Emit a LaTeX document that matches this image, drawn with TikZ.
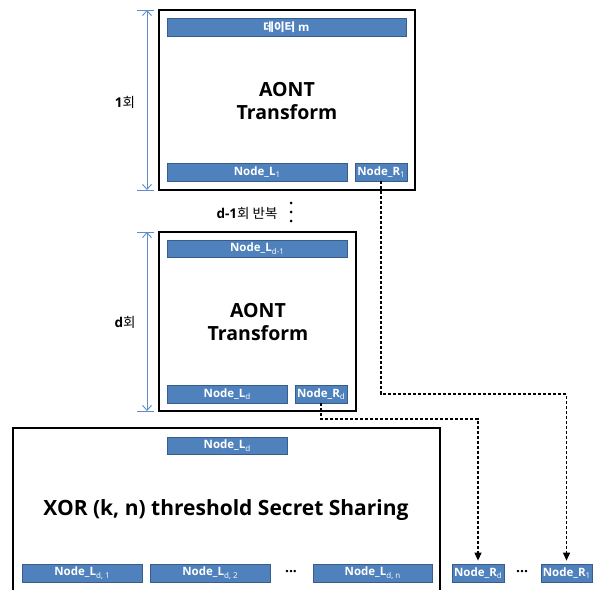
\documentclass[tikz,border=0pt]{standalone}
\usepackage{fontspec}
\setmainfont{Open Sans}
\newfontfamily\kr{Noto Sans CJK KR}
\usetikzlibrary{arrows.meta}
\definecolor{barfill}{HTML}{4F81BD}
\definecolor{barline}{HTML}{385D8A}
\definecolor{arrblue}{HTML}{5E8CC8}
\newcommand\sbs[1]{\raisebox{-0.4ex}{\fontsize{8}{9}\selectfont\mdseries #1}}
\begin{document}
\begin{tikzpicture}[x=1pt,y=-1pt,
  bar/.style={draw=barline,line width=0.8pt,fill=barfill,text=white,font=\fontsize{11.5}{13}\selectfont\bfseries,inner sep=0pt,anchor=center},
  bigbox/.style={draw=black,line width=1.3pt,fill=white,inner sep=0pt},
  title/.style={font=\fontsize{19.5}{23}\selectfont\bfseries,align=center,inner sep=0pt},
  side/.style={font=\fontsize{13.5}{15}\selectfont,inner sep=0pt},
  span/.style={draw=arrblue,line width=0.9pt,{Straight Barb[length=5pt,width=9pt]}-{Straight Barb[length=5pt,width=9pt]}},
  tick/.style={draw=arrblue,line width=0.9pt},
  link/.style={draw=black,line width=1.1pt,dash pattern=on 3pt off 2pt,-{Triangle[width=7pt,length=8pt]},shorten >=3pt},
  dot/.style={circle,fill=black,inner sep=0pt,minimum size=3pt},
  hdots/.style={font=\fontsize{14}{15}\selectfont\bfseries,inner sep=0pt}]
\useasboundingbox (0,0) rectangle (599,589);
\clip (0,0) rectangle (599,589);
\fill[white] (0,0) rectangle (599,589);

% ---- top AONT box
\node[bigbox,minimum width=256pt,minimum height=180pt] (box1) at (287,100) {};
\node[bar,minimum width=239pt,minimum height=18pt] (data) at (286.5,27) {{\kr 데이터} m};
\node[bar,minimum width=180pt,minimum height=18pt] (L1) at (257,172) {Node\_L\sbs{1}};
\node[bar,minimum width=52pt,minimum height=18pt] (R1) at (381,172) {Node\_R\sbs{1}};
\node[title] (aont1) at (287,101) {AONT\\Transform};
\coordinate (a1t) at (147,10);
\coordinate (a1b) at (147,190);
\draw[span] (a1t) -- (a1b);
\draw[tick] ([xshift=-10pt]a1t) -- ([xshift=7pt]a1t);
\draw[tick] ([xshift=-10pt]a1b) -- ([xshift=7pt]a1b);
\node[side] (lab1) at (125,102) {\textbf{1}{\kr 회}};

% ---- repetition
\node[side] (rep) at (247,213) {\textbf{d-1}{\kr 회 반복}};
\node[dot] (d1) at (291,203) {};
\node[dot] (d2) at (291,212) {};
\node[dot] (d3) at (291,221) {};

% ---- middle AONT box
\node[bigbox,minimum width=197pt,minimum height=179pt] (box2) at (257.5,321.5) {};
\node[bar,minimum width=180pt,minimum height=17pt] (Ldm) at (257,248.5) {Node\_L\sbs{d-1}};
\node[bar,minimum width=120pt,minimum height=18pt] (Ld) at (227,394) {Node\_L\sbs{d}};
\node[bar,minimum width=52pt,minimum height=18pt] (Rd) at (321,394) {Node\_R\sbs{d}};
\node[title] (aont2) at (258,322) {AONT\\Transform};
\coordinate (a2t) at (147,232);
\coordinate (a2b) at (147,411);
\draw[span] (a2t) -- (a2b);
\draw[tick] ([xshift=-10pt]a2t) -- ([xshift=7pt]a2t);
\draw[tick] ([xshift=-10pt]a2b) -- ([xshift=7pt]a2b);
\node[side] (labd) at (125,322) {\textbf{d}{\kr 회}};

% ---- bottom XOR box (cut off by the picture's lower edge)
\node[bigbox,minimum width=427pt,minimum height=200pt] (box3) at (226.5,528) {};
\node[bar,minimum width=120pt,minimum height=17pt] (LdT) at (227,445.5) {Node\_L\sbs{d}};
\node[font=\fontsize{21}{25}\selectfont\bfseries,inner sep=0pt] (xor) at (226,510) {XOR (k, n) threshold Secret Sharing};
\node[bar,minimum width=120pt,minimum height=18pt] (Ld1) at (82,573) {Node\_L\sbs{d, 1}};
\node[bar,minimum width=120pt,minimum height=18pt] (Ld2) at (210,573) {Node\_L\sbs{d, 2}};
\node[hdots] (dotsL) at (291,573) {···};
\node[bar,minimum width=119pt,minimum height=18pt] (Ldn) at (372.5,573) {Node\_L\sbs{d, n}};
\node[bar,minimum width=52pt,minimum height=18pt] (RdB) at (478,573) {Node\_R\sbs{d}};
\node[hdots] (dotsR) at (522,573) {···};
\node[bar,minimum width=51pt,minimum height=18pt] (R1B) at (566.5,573) {Node\_R\sbs{1}};

% ---- dashed connectors
\coordinate (k1) at (381,394);
\coordinate (k2) at (321,419);
\draw[link] (R1.south) -- (k1) -| (R1B.north);
\draw[link] (Rd.south) -- (k2) -| (RdB.north);
\end{tikzpicture}
\end{document}
